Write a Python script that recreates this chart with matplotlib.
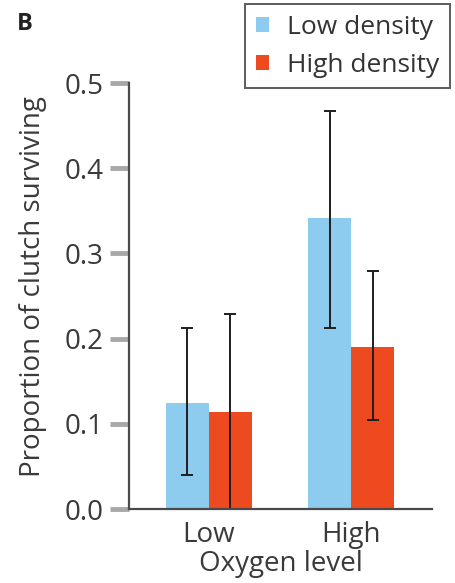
import numpy as np
import matplotlib.pyplot as plt
from matplotlib.patches import Patch

# Clutch survival by oxygen level and egg density
oxygen_levels = ['Low', 'High']
series_names = ['Low density', 'High density']
low_density = [0.125, 0.342]
high_density = [0.114, 0.190]
# error bar extents (lower, upper)
low_density_lo = [0.040, 0.212]
low_density_hi = [0.212, 0.467]
high_density_lo = [0.0, 0.104]
high_density_hi = [0.229, 0.279]

colors = ['#8dcbef', '#ee4a1f']
text_color = '#3a3a3a'
plt.rcParams['font.family'] = ['Open Sans', 'DejaVu Sans']

fig = plt.figure(figsize=(4.56, 5.83), dpi=100)
ax = fig.add_axes([129 / 456, 1 - 509 / 583, 303 / 456, 426 / 583])

x = np.arange(len(oxygen_levels))
width = 0.303


def err(vals, lo, hi):
    vals = np.array(vals)
    return [vals - np.array(lo), np.array(hi) - vals]


ekw = dict(ecolor='#1e1e1e', elinewidth=1.4, capsize=4, capthick=1.4)
ax.bar(x - width / 2, low_density, width, color=colors[0],
       yerr=err(low_density, low_density_lo, low_density_hi), error_kw=ekw)
ax.bar(x + width / 2, high_density, width, color=colors[1],
       yerr=err(high_density, high_density_lo, high_density_hi), error_kw=ekw)

ax.set_xlim(-0.563, 1.570)
ax.set_ylim(0, 0.5)
ax.set_yticks([0.0, 0.1, 0.2, 0.3, 0.4, 0.5])
ax.set_yticklabels(['0.0', '0.1', '0.2', '0.3', '0.4', '0.5'])
ax.set_xticks(x)
ax.set_xticklabels(oxygen_levels)

for side in ['top', 'right']:
    ax.spines[side].set_visible(False)
for side in ['left', 'bottom']:
    ax.spines[side].set_color('#4a4a4a')
    ax.spines[side].set_linewidth(1.6)

ax.tick_params(axis='y', colors='#a8a8a8', length=14, width=3.5, pad=4,
               labelsize=20, labelcolor=text_color)
ax.tick_params(axis='x', length=0, pad=8.5, labelsize=20, labelcolor=text_color)

ax.set_ylabel('Proportion of clutch surviving', fontsize=20, color=text_color)
ax.yaxis.set_label_coords(-0.271, 0.521)
ax.set_xlabel('Oxygen level', fontsize=20, color=text_color, labelpad=0.5)

handles = [Patch(facecolor=c, edgecolor='none') for c in colors]
leg = fig.legend(handles, series_names, loc='upper left',
                 bbox_to_anchor=(245 / 456, 1 - 4 / 583), fontsize=19,
                 frameon=True, fancybox=False, edgecolor='#333333',
                 handlelength=0.5, handleheight=0.5, handletextpad=0.7,
                 labelspacing=0.5, borderpad=0.4, borderaxespad=0,
                 labelcolor='#333333')
leg.get_frame().set_linewidth(1.4)

fig.text(17 / 456, 1 - 23.5 / 583, 'B', fontsize=17, fontweight='bold',
         va='center', ha='left', color='#222222')

fig.savefig('out.png', dpi=100)
